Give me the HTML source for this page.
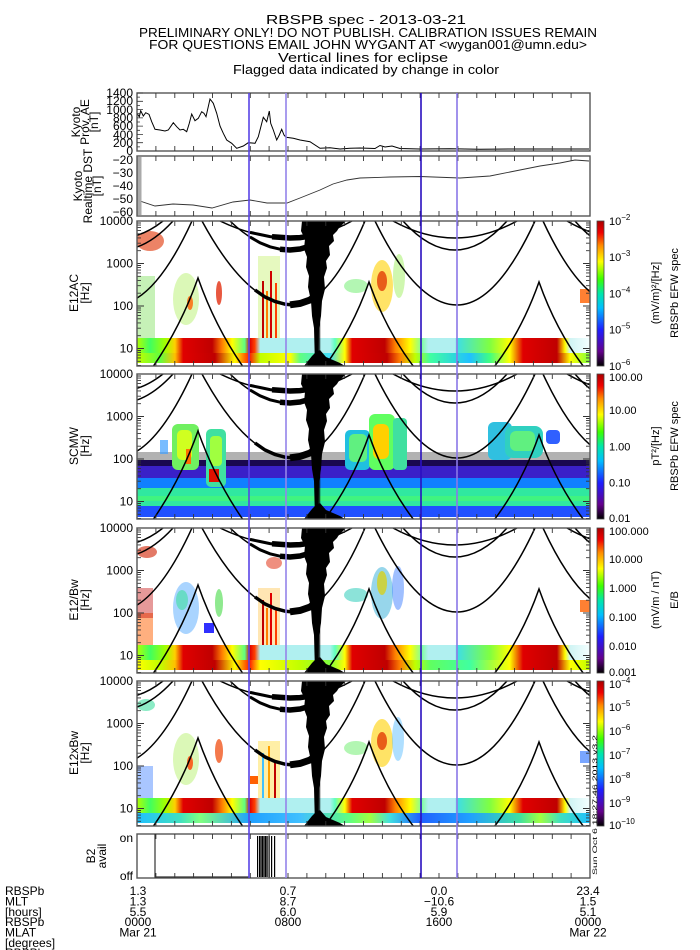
<!DOCTYPE html>
<html><head><meta charset="utf-8">
<style>
body{margin:0;background:#fff}
svg{display:block}
text{font-family:"Liberation Sans",sans-serif;fill:#000}
</style></head>
<body>
<svg width="700" height="950" xmlns="http://www.w3.org/2000/svg" xmlns:xlink="http://www.w3.org/1999/xlink">
<defs>
<linearGradient id="cg" x1="0" y1="1" x2="0" y2="0">
<stop offset="0" stop-color="#000"/><stop offset="0.1" stop-color="#64008c"/><stop offset="0.25" stop-color="#1e1eff"/><stop offset="0.4" stop-color="#00beff"/><stop offset="0.5" stop-color="#00e6aa"/><stop offset="0.6" stop-color="#3cff00"/><stop offset="0.72" stop-color="#ffff00"/><stop offset="0.83" stop-color="#ff8c00"/><stop offset="0.92" stop-color="#f00000"/><stop offset="1" stop-color="#aa0000"/>
</linearGradient>
<linearGradient id="gu" gradientUnits="userSpaceOnUse" x1="137" y1="0" x2="590" y2="0">
<stop offset="0" stop-color="#b0ff00"/><stop offset=".029" stop-color="#40ff60"/><stop offset=".062" stop-color="#a0ff00"/><stop offset=".084" stop-color="#ffd000"/><stop offset=".102" stop-color="#e00000"/><stop offset=".166" stop-color="#c00000"/><stop offset=".188" stop-color="#ff8000"/><stop offset=".21" stop-color="#ffff00"/><stop offset=".238" stop-color="#60ff80"/><stop offset=".249" stop-color="#e00000"/><stop offset=".26" stop-color="#ff4000"/><stop offset=".272" stop-color="#b0f0f0"/><stop offset=".426" stop-color="#b0f0f0"/><stop offset=".437" stop-color="#60ffc0"/><stop offset=".459" stop-color="#ffff00"/><stop offset=".475" stop-color="#e00000"/><stop offset=".547" stop-color="#c00000"/><stop offset=".57" stop-color="#ff8000"/><stop offset=".603" stop-color="#ffff00"/><stop offset=".629" stop-color="#80ffa0"/><stop offset=".643" stop-color="#b0f0f0"/><stop offset=".702" stop-color="#b0f0f0"/><stop offset=".709" stop-color="#40e0e0"/><stop offset=".779" stop-color="#80ff40"/><stop offset=".823" stop-color="#ffff00"/><stop offset=".852" stop-color="#e00000"/><stop offset=".927" stop-color="#c00000"/><stop offset=".945" stop-color="#ffff00"/><stop offset=".956" stop-color="#d0f4f4"/><stop offset="1" stop-color="#f4ffff"/>
</linearGradient>
<linearGradient id="gla" gradientUnits="userSpaceOnUse" x1="137" y1="0" x2="590" y2="0">
<stop offset="0" stop-color="#c0ff00"/><stop offset=".051" stop-color="#60ff40"/><stop offset=".084" stop-color="#ffc000"/><stop offset=".102" stop-color="#e00000"/><stop offset=".172" stop-color="#c00000"/><stop offset=".216" stop-color="#ffff00"/><stop offset=".249" stop-color="#ff2000"/><stop offset=".272" stop-color="#c0ff00"/><stop offset=".338" stop-color="#ffff00"/><stop offset=".36" stop-color="#60ff80"/><stop offset=".426" stop-color="#40e0ff"/><stop offset=".459" stop-color="#ffff00"/><stop offset=".475" stop-color="#e00000"/><stop offset=".552" stop-color="#c00000"/><stop offset=".581" stop-color="#ff8000"/><stop offset=".614" stop-color="#c0ff00"/><stop offset=".647" stop-color="#40ffa0"/><stop offset=".735" stop-color="#20c0ff"/><stop offset=".779" stop-color="#40ff80"/><stop offset=".823" stop-color="#ffff00"/><stop offset=".852" stop-color="#e00000"/><stop offset=".927" stop-color="#c00000"/><stop offset=".956" stop-color="#ffff00"/><stop offset="1" stop-color="#80ff40"/>
</linearGradient>
<linearGradient id="glb" gradientUnits="userSpaceOnUse" x1="137" y1="0" x2="590" y2="0">
<stop offset="0" stop-color="#ffff00"/><stop offset=".051" stop-color="#c0ff00"/><stop offset=".084" stop-color="#ffc000"/><stop offset=".102" stop-color="#e00000"/><stop offset=".172" stop-color="#c00000"/><stop offset=".216" stop-color="#ffff00"/><stop offset=".249" stop-color="#ff2000"/><stop offset=".272" stop-color="#ffff00"/><stop offset=".36" stop-color="#c0ff00"/><stop offset=".426" stop-color="#80ff40"/><stop offset=".459" stop-color="#ffff00"/><stop offset=".475" stop-color="#e00000"/><stop offset=".552" stop-color="#c00000"/><stop offset=".581" stop-color="#ff8000"/><stop offset=".614" stop-color="#c0ff00"/><stop offset=".647" stop-color="#60ff60"/><stop offset=".735" stop-color="#40ffa0"/><stop offset=".779" stop-color="#a0ff40"/><stop offset=".823" stop-color="#ffff00"/><stop offset=".852" stop-color="#e00000"/><stop offset=".927" stop-color="#c00000"/><stop offset=".956" stop-color="#ffff00"/><stop offset="1" stop-color="#c0ff00"/>
</linearGradient>
<linearGradient id="glx" gradientUnits="userSpaceOnUse" x1="137" y1="0" x2="590" y2="0">
<stop offset="0" stop-color="#20c0ff"/><stop offset=".095" stop-color="#40e0c0"/><stop offset=".14" stop-color="#80ff80"/><stop offset=".25" stop-color="#20a0ff"/><stop offset=".36" stop-color="#40c0ff"/><stop offset=".47" stop-color="#60ff80"/><stop offset=".514" stop-color="#a0ff40"/><stop offset=".558" stop-color="#40e0e0"/><stop offset=".625" stop-color="#2060ff"/><stop offset=".735" stop-color="#20a0ff"/><stop offset=".845" stop-color="#40e0a0"/><stop offset=".89" stop-color="#a0ff40"/><stop offset=".934" stop-color="#40e0c0"/><stop offset="1" stop-color="#20c0ff"/>
</linearGradient>
<clipPath id="cp"><rect x="137" y="0" width="453" height="145"/></clipPath>
<clipPath id="ca"><rect x="137" y="93" width="453" height="58"/></clipPath>
<clipPath id="cd"><rect x="137" y="156" width="453" height="60"/></clipPath>

<g id="curv" fill="none" stroke="#000" stroke-width="1.5">
<path d="M38 0Q76.5 84 115 84Q153.5 84 192 0"/>
<path d="M202 0Q247.5 84 293 84Q329 84 365 0"/>
<path d="M375 0Q416 84 457 84Q496 84 535 0"/>
<path d="M543 0Q582 84 621 84"/>
<path d="M77 0Q98.5 17 120 17Q141.5 17 163 0"/>
<path d="M67 0Q93.5 29 120 29Q146.5 29 173 0"/>
<path d="M220 0Q255 17 290 17Q321 17 352 0"/>
<path d="M230 0Q260 29 290 29Q317.5 29 345 0"/>
<path d="M393 0Q424 17 455 17Q486 17 517 0"/>
<path d="M403 0Q429 29 455 29Q481 29 507 0"/>
<path d="M567 0Q596 17 625 17"/>
<path d="M575 0Q600 29 625 29"/>
<path d="M150 150Q180 108 198 57Q216 108 246 150"/>
<path d="M321 150Q351 112 369 61Q387 112 417 150"/>
<path d="M491 150Q521 112 539 61Q557 112 587 150"/>
<polyline points="250,11.4 260,13.5 270,15.6 280,16.7 290,17 300,16.6 310,15.2 320,13" stroke-width="3"/>
<polyline points="272,15.8 290,17 300,16.6 310,15.2 320,13" stroke-width="5.5"/>
<polyline points="250,16 260,21.8 270,25.8 280,28.2 290,29 300,28 310,25.2 320,20.4" stroke-width="3"/>
<polyline points="280,28.2 290,29 300,28 310,25.2 320,20.4" stroke-width="5.5"/>
<polyline points="255,69 265,76 275,80.5 285,83.2 293,84 303,82 313,77 322,70" stroke-width="3.5"/>
<polyline points="290,83.8 300,82.5 310,79 320,72" stroke-width="7"/>
<polygon fill="#000" stroke="none" points="302,0 345,0 340,5 337,10 333,14 334,20 329,25 330,34 326,40 327,47 324,56 325,68 322,80 321,95 319,107 318.8,145 315,145 314,107 312,95 311,80 308,66 309,55 306,46 307,36 304,28 305,18 301,10"/>
<polygon fill="#000" stroke="none" points="304,145 345,145 340,142 333,139 326,136 320,129 316,131 312,135 308,140"/>
<rect x="319.3" y="20" width="0.9" height="125" fill="#000" stroke="none"/>
</g>

<g id="sticks" stroke="#333" stroke-width="0.9" fill="none">
<path d="M155.9 0v5M174.8 0v5M193.6 0v5M212.5 0v5M231.4 0v5M250.3 0v5M269.1 0v5M288 0v5M306.9 0v5M325.8 0v5M344.6 0v5M363.5 0v5M382.4 0v5M401.3 0v5M420.1 0v5M439 0v5M457.9 0v5M476.8 0v5M495.6 0v5M514.5 0v5M533.4 0v5M552.3 0v5M571.1 0v5"/>
<path d="M155.9 145v-5M174.8 145v-5M193.6 145v-5M212.5 145v-5M231.4 145v-5M250.3 145v-5M269.1 145v-5M288 145v-5M306.9 145v-5M325.8 145v-5M344.6 145v-5M363.5 145v-5M382.4 145v-5M401.3 145v-5M420.1 145v-5M439 145v-5M457.9 145v-5M476.8 145v-5M495.6 145v-5M514.5 145v-5M533.4 145v-5M552.3 145v-5M571.1 145v-5"/>
<path d="M137 0h7M137 42.5h7M137 85h7M137 127.5h7M590 0h-7M590 42.5h-7M590 85h-7M590 127.5h-7"/>
<path d="M137 29.7h4M137 22.2h4M137 16.9h4M137 12.8h4M137 9.4h4M137 6.6h4M137 4.1h4M137 2h4M137 72.2h4M137 64.7h4M137 59.4h4M137 55.3h4M137 51.9h4M137 49.1h4M137 46.6h4M137 44.5h4M137 114.7h4M137 107.2h4M137 101.9h4M137 97.8h4M137 94.4h4M137 91.6h4M137 89.1h4M137 87h4M137 144.4h4M137 140.3h4M137 136.9h4M137 134.1h4M137 131.6h4M137 129.5h4"/>
<path d="M590 29.7h-4M590 22.2h-4M590 16.9h-4M590 12.8h-4M590 9.4h-4M590 6.6h-4M590 4.1h-4M590 2h-4M590 72.2h-4M590 64.7h-4M590 59.4h-4M590 55.3h-4M590 51.9h-4M590 49.1h-4M590 46.6h-4M590 44.5h-4M590 114.7h-4M590 107.2h-4M590 101.9h-4M590 97.8h-4M590 94.4h-4M590 91.6h-4M590 89.1h-4M590 87h-4M590 144.4h-4M590 140.3h-4M590 136.9h-4M590 134.1h-4M590 131.6h-4M590 129.5h-4"/>
<rect x="137" y="0" width="453" height="145" stroke="#555" stroke-width="1.4"/>
<rect x="597" y="0" width="7" height="145" fill="url(#cg)" stroke="#444" stroke-width="0.8"/>
</g>
<path id="xtop" stroke="#333" stroke-width="0.9" d="M155.9 0v5M174.8 0v5M193.6 0v5M212.5 0v5M231.4 0v5M250.3 0v5M269.1 0v5M288 0v5M306.9 0v5M325.8 0v5M344.6 0v5M363.5 0v5M382.4 0v5M401.3 0v5M420.1 0v5M439 0v5M457.9 0v5M476.8 0v5M495.6 0v5M514.5 0v5M533.4 0v5M552.3 0v5M571.1 0v5"/>
<path id="xbot" stroke="#333" stroke-width="0.9" d="M155.9 0v-5M174.8 0v-5M193.6 0v-5M212.5 0v-5M231.4 0v-5M250.3 0v-5M269.1 0v-5M288 0v-5M306.9 0v-5M325.8 0v-5M344.6 0v-5M363.5 0v-5M382.4 0v-5M401.3 0v-5M420.1 0v-5M439 0v-5M457.9 0v-5M476.8 0v-5M495.6 0v-5M514.5 0v-5M533.4 0v-5M552.3 0v-5M571.1 0v-5"/>
</defs>
<rect width="700" height="950" fill="#fff"/>

<!-- ===== E12AC ===== -->
<g transform="translate(0,221)">
<g clip-path="url(#cp)">
<rect x="137" y="117" width="453" height="15" fill="url(#gu)"/>
<rect x="137" y="132" width="453" height="10" fill="url(#gla)"/>
<ellipse cx="150" cy="20" rx="14" ry="10" fill="#e03000" opacity=".6"/>
<rect x="137" y="55" width="18" height="62" fill="#80e060" opacity=".45"/>
<ellipse cx="186" cy="78" rx="13" ry="26" fill="#b0f060" opacity=".45"/>
<ellipse cx="190" cy="82" rx="3" ry="7" fill="#ff6000" opacity=".8"/>
<ellipse cx="219" cy="72" rx="3" ry="12" fill="#e02000" opacity=".75"/>
<rect x="258" y="35" width="22" height="82" fill="#c0f060" opacity=".4"/>
<rect x="262" y="60" width="2" height="57" fill="#c00000"/><rect x="266" y="70" width="2" height="47" fill="#ff8000"/><rect x="270" y="50" width="2" height="67" fill="#d00000"/><rect x="275" y="62" width="2" height="55" fill="#ff4000"/>
<ellipse cx="356" cy="65" rx="12" ry="7" fill="#80f080" opacity=".6"/>
<ellipse cx="382" cy="65" rx="11" ry="26" fill="#ffd000" opacity=".6"/>
<ellipse cx="382" cy="60" rx="5" ry="10" fill="#e03000" opacity=".75"/>
<ellipse cx="399" cy="55" rx="6" ry="22" fill="#a0f060" opacity=".5"/>
<rect x="580" y="68" width="10" height="14" fill="#ff6000" opacity=".8"/>
<use xlink:href="#curv"/>
</g>
<use xlink:href="#sticks"/>
</g>

<!-- ===== SCMW ===== -->
<g transform="translate(0,374)">
<g clip-path="url(#cp)">
<rect x="137" y="78" width="453" height="12" fill="#000" opacity=".3"/>
<rect x="137" y="86" width="453" height="6" fill="#1a0850"/>
<rect x="137" y="92" width="453" height="12" fill="#3a20c8"/>
<rect x="137" y="104" width="453" height="10" fill="#1080ff"/>
<rect x="137" y="114" width="453" height="18" fill="#30e8a0"/>
<rect x="137" y="132" width="453" height="11" fill="#2050ff"/>
<rect x="137" y="122" width="453" height="5" fill="#50ff60" opacity=".5"/>
<rect x="172" y="50" width="27" height="46" rx="6" fill="#70f060"/>
<rect x="177" y="56" width="15" height="30" rx="5" fill="#d0ff20"/>
<rect x="186" y="75" width="5" height="15" fill="#ff7000"/>
<rect x="206" y="55" width="20" height="58" rx="5" fill="#40e0a0"/>
<rect x="210" y="62" width="12" height="30" rx="4" fill="#a0ff40"/>
<rect x="209" y="95" width="10" height="13" fill="#e01000"/>
<rect x="345" y="56" width="25" height="40" rx="5" fill="#20c0e0"/>
<rect x="349" y="60" width="18" height="28" rx="5" fill="#60f080"/>
<rect x="369" y="40" width="26" height="56" rx="6" fill="#60ff60"/>
<rect x="373" y="50" width="16" height="35" rx="6" fill="#ffd000"/>
<rect x="393" y="44" width="14" height="52" rx="4" fill="#40e0a0"/>
<rect x="488" y="48" width="24" height="38" rx="6" fill="#30c0e0"/>
<rect x="505" y="52" width="38" height="32" rx="8" fill="#30d0c0"/>
<rect x="510" y="57" width="25" height="20" rx="6" fill="#60f080"/>
<rect x="546" y="56" width="14" height="14" rx="4" fill="#3060ff"/>
<rect x="160" y="66" width="8" height="14" fill="#40a0ff" opacity=".7"/>
<use xlink:href="#curv"/>
</g>
<use xlink:href="#sticks"/>
</g>

<!-- ===== E12/Bw ===== -->
<g transform="translate(0,528)">
<g clip-path="url(#cp)">
<rect x="137" y="117" width="453" height="15" fill="url(#gu)"/>
<rect x="137" y="132" width="453" height="10" fill="url(#glb)"/>
<ellipse cx="147" cy="24" rx="10" ry="6" fill="#d02000" opacity=".6"/>
<rect x="137" y="85" width="16" height="32" fill="#ff6000" opacity=".5"/>
<rect x="137" y="60" width="16" height="30" fill="#c00000" opacity=".4"/>
<ellipse cx="186" cy="80" rx="13" ry="26" fill="#40a0ff" opacity=".45"/>
<ellipse cx="182" cy="72" rx="6" ry="10" fill="#40e0a0" opacity=".6"/>
<rect x="204" y="95" width="10" height="10" fill="#3030ff"/>
<ellipse cx="219" cy="75" rx="4" ry="14" fill="#60e060" opacity=".7"/>
<rect x="258" y="60" width="22" height="57" fill="#ffc040" opacity=".4"/>
<rect x="262" y="72" width="2" height="45" fill="#c00000"/><rect x="266" y="80" width="2" height="37" fill="#ff8000"/><rect x="270" y="65" width="2" height="52" fill="#e00000"/><rect x="275" y="80" width="2" height="37" fill="#ff4000"/>
<ellipse cx="274" cy="35" rx="8" ry="6" fill="#e02000" opacity=".5"/>
<ellipse cx="356" cy="67" rx="12" ry="7" fill="#40d0c0" opacity=".6"/>
<ellipse cx="382" cy="65" rx="11" ry="26" fill="#60c0e0" opacity=".65"/>
<ellipse cx="382" cy="55" rx="5" ry="12" fill="#e0d000" opacity=".7"/>
<ellipse cx="398" cy="60" rx="6" ry="22" fill="#4080ff" opacity=".5"/>
<rect x="580" y="72" width="10" height="12" fill="#ff6000" opacity=".8"/>
<use xlink:href="#curv"/>
</g>
<use xlink:href="#sticks"/>
</g>

<!-- ===== E12xBw ===== -->
<g transform="translate(0,681)">
<g clip-path="url(#cp)">
<rect x="137" y="117" width="453" height="15" fill="url(#gu)"/>
<rect x="137" y="132" width="453" height="10" fill="url(#glx)"/>
<ellipse cx="146" cy="24" rx="9" ry="6" fill="#40e0a0" opacity=".6"/>
<rect x="137" y="85" width="16" height="32" fill="#4080ff" opacity=".45"/>
<ellipse cx="186" cy="78" rx="13" ry="26" fill="#b0f060" opacity=".45"/>
<ellipse cx="190" cy="82" rx="3" ry="7" fill="#ff4000" opacity=".8"/>
<ellipse cx="219" cy="70" rx="4" ry="12" fill="#f04000" opacity=".7"/>
<rect x="250" y="95" width="8" height="8" fill="#ff6000"/>
<rect x="258" y="60" width="22" height="57" fill="#ffd000" opacity=".35"/>
<rect x="262" y="72" width="2" height="45" fill="#40c0ff"/><rect x="268" y="65" width="2" height="52" fill="#ffa000"/><rect x="274" y="80" width="2" height="37" fill="#c00000"/>
<ellipse cx="356" cy="67" rx="12" ry="7" fill="#80f080" opacity=".6"/>
<ellipse cx="382" cy="62" rx="11" ry="24" fill="#ffd000" opacity=".6"/>
<ellipse cx="382" cy="60" rx="5" ry="9" fill="#e03000" opacity=".75"/>
<ellipse cx="398" cy="58" rx="6" ry="22" fill="#60c0ff" opacity=".5"/>
<rect x="580" y="70" width="10" height="12" fill="#4080ff" opacity=".7"/>
<use xlink:href="#curv"/>
</g>
<use xlink:href="#sticks"/>
</g>

<!-- ===== AE ===== -->
<g clip-path="url(#ca)">
<polyline fill="none" stroke="#000" stroke-width="1" points="136.7,113.3 139.3,116.7 140.7,110.7 143.3,116 145.7,112.7 149,114.3 151.7,121.7 155,129.3 160,130 165,131 168.3,130 173.3,122.7 176.7,126.7 180,130 183.3,129.3 186.7,131.7 189.3,123.3 191.7,114 195,120.7 198.3,118.3 201.7,111.7 204,113.3 206,116.7 210,99 213.3,103.3 216.7,113.3 220,126 223.3,133.3 226.7,140 231.7,143.3 236.7,148.3 243.3,146 248.3,142.7 255,143.3 258.3,136.7 263.3,117.3 266.7,121.7 269.3,111 270.7,123.3 273.3,130 276.7,140 279.3,135 281.7,129.3 284,135 286,137.3 293.3,138.3 300,140 310,141.7 320,148.3 330,147.7 340,149 350,148.3 360,148 375,148.5 380,145.5 385,147 392,146 400,148.5 420,149 450,148.7 480,149.2 520,149 560,149 589,149"/>
</g>
<rect x="137" y="93" width="453" height="58" fill="none" stroke="#555" stroke-width="1.4"/>
<use xlink:href="#xtop" y="93"/><use xlink:href="#xbot" y="151"/>
<path stroke="#333" stroke-width="0.8" d="M137 93h6M137 101.3h6M137 109.6h6M137 117.9h6M137 126.1h6M137 134.4h6M137 142.7h6M137 97.1h3M137 105.4h3M137 113.7h3M137 122h3M137 130.3h3M137 138.6h3M137 146.9h3"/>

<!-- ===== DST ===== -->
<g clip-path="url(#cd)">
<polyline fill="none" stroke="#333" stroke-width="0.9" points="137,200 155,206 173,204 193,205 212,208 233,202 250,200 267,203 287,203 300,198 320,190 333,184 347,180 360,178 390,177 420,176.5 460,178 490,176 510,172 540,166 560,163 575,160 589,161"/>
</g>
<rect x="137.5" y="157" width="4" height="58" fill="#aaa"/>
<rect x="137" y="156" width="453" height="60" fill="none" stroke="#555" stroke-width="1.4"/>
<use xlink:href="#xtop" y="156"/><use xlink:href="#xbot" y="216"/>

<!-- ===== B2 ===== -->
<rect x="137" y="834" width="453" height="44" fill="none" stroke="#555" stroke-width="1.4"/>
<use xlink:href="#xtop" y="834"/><use xlink:href="#xbot" y="878"/>
<path d="M155 834V877H249" fill="none" stroke="#333" stroke-width="1.2"/>
<g fill="#000"><rect x="257" y="836" width="1.2" height="41"/><rect x="259" y="836" width="1.2" height="41"/><rect x="260.5" y="836" width="1.2" height="41"/><rect x="262" y="836" width="1.2" height="41"/><rect x="263.5" y="836" width="1.2" height="41"/><rect x="265" y="836" width="1.2" height="41"/><rect x="266.5" y="836" width="1.2" height="41"/><rect x="268.5" y="836" width="1.2" height="41"/><rect x="271" y="836" width="1.2" height="41"/><rect x="274" y="836" width="1.2" height="41"/></g>

<rect x="248.2" y="93" width="1.6" height="785" fill="#5a44e6"/>
<rect x="285.2" y="93" width="1.6" height="785" fill="#9484ea"/>
<rect x="420.2" y="93" width="1.6" height="785" fill="#2a10c0"/>
<rect x="456.2" y="93" width="1.6" height="785" fill="#8a78e8"/>

<g font-size="13" text-anchor="middle">
<text x="366" y="24" textLength="200" lengthAdjust="spacingAndGlyphs">RBSPB spec - 2013-03-21</text>
<text x="368" y="37" textLength="458" lengthAdjust="spacingAndGlyphs">PRELIMINARY ONLY! DO NOT PUBLISH. CALIBRATION ISSUES REMAIN</text>
<text x="368" y="49" textLength="438" lengthAdjust="spacingAndGlyphs">FOR QUESTIONS EMAIL JOHN WYGANT AT &lt;wygan001@umn.edu&gt;</text>
<text x="363" y="62" textLength="170" lengthAdjust="spacingAndGlyphs">Vertical lines for eclipse</text>
<text x="366" y="74" textLength="266" lengthAdjust="spacingAndGlyphs">Flagged data indicated by change in color</text>
</g>

<g font-size="12" text-anchor="end">
<text x="133" y="97">1400</text><text x="133" y="105">1200</text><text x="133" y="114">1000</text><text x="133" y="122">800</text><text x="133" y="130">600</text><text x="133" y="139">400</text><text x="133" y="147">200</text><text x="133" y="155">0</text>
<text x="133" y="164">−20</text><text x="133" y="177">−30</text><text x="133" y="190">−40</text><text x="133" y="203">−50</text><text x="133" y="216">−60</text>
<text x="133" y="225">10000</text><text x="133" y="267.5">1000</text><text x="133" y="310">100</text><text x="133" y="352.5">10</text>
<text x="133" y="378">10000</text><text x="133" y="420.5">1000</text><text x="133" y="463">100</text><text x="133" y="505.5">10</text>
<text x="133" y="532">10000</text><text x="133" y="574.5">1000</text><text x="133" y="617">100</text><text x="133" y="659.5">10</text>
<text x="133" y="685">10000</text><text x="133" y="727.5">1000</text><text x="133" y="770">100</text><text x="133" y="812.5">10</text>
<text x="133" y="842">on</text><text x="133" y="880">off</text>
</g>
<g font-size="12" text-anchor="middle">
<text transform="translate(80,122) rotate(-90)">Kyoto</text>
<text transform="translate(89,122) rotate(-90)">Prov. AE</text>
<text transform="translate(98,122) rotate(-90)">[nT]</text>
<text transform="translate(82,186) rotate(-90)">Kyoto</text>
<text transform="translate(92,186) rotate(-90)">Realtime DST</text>
<text transform="translate(101,186) rotate(-90)">[nT]</text>
<text transform="translate(78,293) rotate(-90)">E12AC</text>
<text transform="translate(89,293) rotate(-90)">[Hz]</text>
<text transform="translate(78,446) rotate(-90)">SCMW</text>
<text transform="translate(89,446) rotate(-90)">[Hz]</text>
<text transform="translate(78,600) rotate(-90)">E12/Bw</text>
<text transform="translate(89,600) rotate(-90)">[Hz]</text>
<text transform="translate(78,753) rotate(-90)">E12xBw</text>
<text transform="translate(89,753) rotate(-90)">[Hz]</text>
<text transform="translate(95,856) rotate(-90)">B2</text>
<text transform="translate(106,856) rotate(-90)">avail</text>
</g>

<g font-size="11">
<text x="609" y="225">10<tspan dy="-5" font-size="8">−2</tspan></text>
<text x="609" y="261">10<tspan dy="-5" font-size="8">−3</tspan></text>
<text x="609" y="297.5">10<tspan dy="-5" font-size="8">−4</tspan></text>
<text x="609" y="333.5">10<tspan dy="-5" font-size="8">−5</tspan></text>
<text x="609" y="370">10<tspan dy="-5" font-size="8">−6</tspan></text>
<text x="609" y="381">100.00</text><text x="609" y="414">10.00</text><text x="609" y="450.5">1.00</text><text x="609" y="486.5">0.10</text><text x="609" y="522">0.01</text>
<text x="609" y="535">100.000</text><text x="609" y="563">10.000</text><text x="609" y="592">1.000</text><text x="609" y="621">0.100</text><text x="609" y="650">0.010</text><text x="609" y="676">0.001</text>
<text x="609" y="688">10<tspan dy="-5" font-size="8">−4</tspan></text>
<text x="609" y="711">10<tspan dy="-5" font-size="8">−5</tspan></text>
<text x="609" y="735">10<tspan dy="-5" font-size="8">−6</tspan></text>
<text x="609" y="759">10<tspan dy="-5" font-size="8">−7</tspan></text>
<text x="609" y="783">10<tspan dy="-5" font-size="8">−8</tspan></text>
<text x="609" y="807">10<tspan dy="-5" font-size="8">−9</tspan></text>
<text x="609" y="829">10<tspan dy="-5" font-size="8">−10</tspan></text>
</g>
<g font-size="11" text-anchor="middle">
<text transform="translate(659,293) rotate(-90)">(mV/m)²/[Hz]</text>
<text transform="translate(678,293) rotate(-90)">RBSPb EFW spec</text>
<text transform="translate(659,446) rotate(-90)">pT²/[Hz]</text>
<text transform="translate(678,446) rotate(-90)">RBSPb EFW spec</text>
<text transform="translate(659,600) rotate(-90)">(mV/m  /  nT)</text>
<text transform="translate(678,600) rotate(-90)">E/B</text>
</g>
<text transform="translate(597,805) rotate(-90)" font-size="6" text-anchor="middle" textLength="140" lengthAdjust="spacingAndGlyphs">Sun Oct  6 18:27:46 2013 v3.2</text>

<g font-size="12">
<text x="5" y="895">RBSPb</text><text x="5" y="905.5">MLT</text><text x="5" y="916">[hours]</text><text x="5" y="926">RBSPb</text><text x="5" y="936.5">MLAT</text><text x="5" y="947">[degrees]</text><text x="5" y="957">RBSPb</text>
</g>
<g font-size="12" text-anchor="middle">
<text x="138" y="895">1.3</text><text x="138" y="905.5">1.3</text><text x="138" y="916">5.5</text><text x="138" y="926">0000</text><text x="138" y="936.5">Mar 21</text>
<text x="288" y="895">0.7</text><text x="288" y="905.5">8.7</text><text x="288" y="916">6.0</text><text x="288" y="926">0800</text>
<text x="439" y="895">0.0</text><text x="439" y="905.5">−10.6</text><text x="439" y="916">5.9</text><text x="439" y="926">1600</text>
<text x="588" y="895">23.4</text><text x="588" y="905.5">1.5</text><text x="588" y="916">5.1</text><text x="588" y="926">0000</text><text x="588" y="936.5">Mar 22</text>
</g>
</svg>
</body></html>
